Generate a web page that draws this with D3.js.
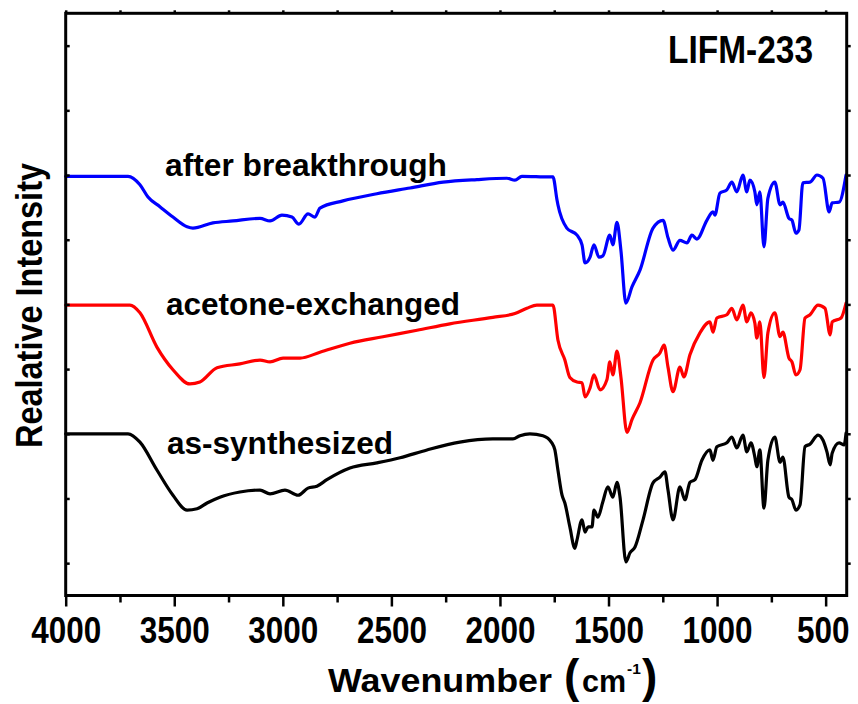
<!DOCTYPE html>
<html><head><meta charset="utf-8">
<script src="https://cdn.jsdelivr.net/npm/d3@7"></script>
<style>
html,body{margin:0;padding:0;background:#fff;}
svg{display:block;}
text{font-family:"Liberation Sans",Arial,Helvetica,sans-serif;font-weight:bold;fill:#000;}
</style>
</head><body>
<svg id="chart" width="858" height="704"></svg>
<script>
// ---- data (wavenumber in cm-1, relative intensity with vertical offsets) ----
const afterWn  = [4000,3713,3658,3621,3566,3506,3441,3414,3322,3230,3105,3059,3004,2958,2926,2884,2852,2829,2723,2567,2414,2262,2106,1968,1931,1899,1770,1756,1737,1733,1692,1645,1622,1608,1585,1567,1544,1526,1494,1480,1461,1443,1420,1392,1355,1295,1249,1226,1203,1171,1139,1116,1093,1047,1019,1010,987,955,932,909,881,863,849,826,817,803,784,766,734,710,697,669,655,637,623,605,572,540,512,484,470,438,406];
const afterVal = [6.48,6.48,6.35,6.16,6.01,5.85,5.70,5.68,5.76,5.79,5.83,5.79,5.88,5.85,5.74,5.90,5.85,5.99,6.10,6.21,6.30,6.39,6.43,6.45,6.42,6.48,6.47,6.47,6.11,6.04,5.68,5.57,5.42,5.14,5.23,5.42,5.23,5.25,5.57,5.42,5.77,5.34,4.52,4.77,5.03,5.68,5.80,5.53,5.34,5.49,5.45,5.57,5.51,5.80,5.93,5.88,6.22,6.27,6.39,6.24,6.50,6.24,6.42,6.24,6.04,6.24,5.39,6.14,6.39,6.04,6.08,5.83,5.80,5.60,5.65,6.38,6.39,6.50,6.45,5.93,6.07,6.08,6.50];

const acetoneWn  = [4000,3704,3658,3580,3506,3428,3382,3303,3198,3105,3059,2999,2921,2829,2691,2539,2382,2231,2033,1931,1876,1830,1756,1733,1701,1678,1645,1622,1608,1585,1567,1539,1507,1494,1480,1461,1443,1415,1392,1355,1295,1263,1244,1226,1203,1171,1153,1125,1079,1033,1019,1001,955,932,909,881,863,844,826,817,803,784,766,734,710,697,669,655,637,618,595,572,535,503,479,470,429,406];
const acetoneVal = [4.49,4.49,4.37,3.84,3.49,3.27,3.30,3.52,3.58,3.64,3.61,3.67,3.67,3.76,3.90,4.00,4.10,4.20,4.30,4.36,4.44,4.49,4.49,3.95,3.64,3.37,3.30,3.29,3.07,3.21,3.41,3.18,3.34,3.61,3.41,3.78,3.38,2.52,2.72,2.98,3.64,3.75,3.87,3.53,3.15,3.53,3.38,3.72,4.06,4.23,4.07,4.29,4.34,4.44,4.26,4.49,4.23,4.37,4.21,3.98,4.23,3.37,4.06,4.37,4.00,4.07,3.67,3.61,3.41,3.49,4.29,4.34,4.49,4.44,4.03,4.23,4.29,4.52];

const asSynWn  = [4000,3713,3658,3580,3506,3441,3395,3349,3290,3198,3105,3059,2990,2930,2884,2843,2797,2691,2567,2460,2336,2185,2033,1940,1908,1862,1802,1761,1747,1733,1714,1701,1678,1655,1645,1622,1608,1594,1576,1567,1549,1526,1503,1480,1461,1447,1420,1401,1378,1341,1295,1263,1240,1226,1203,1171,1148,1125,1102,1070,1033,1019,1001,955,932,909,881,863,844,826,817,803,784,766,734,710,697,669,655,637,618,595,572,535,512,494,479,470,438,415,406];
const asSynVal = [2.50,2.50,2.37,1.94,1.55,1.32,1.34,1.43,1.52,1.60,1.63,1.57,1.63,1.55,1.66,1.69,1.79,1.97,2.05,2.13,2.25,2.37,2.42,2.42,2.47,2.50,2.47,2.36,2.25,1.94,1.55,1.43,1.06,0.73,0.86,1.17,0.98,1.06,1.06,1.32,1.21,1.45,1.68,1.52,1.75,1.52,0.52,0.66,0.75,1.17,1.74,1.83,1.91,1.63,1.17,1.68,1.48,1.75,1.79,2.09,2.25,2.09,2.30,2.36,2.45,2.28,2.48,2.22,2.36,2.14,1.99,2.25,1.35,2.09,2.45,2.06,2.14,1.52,1.48,1.32,1.40,2.30,2.34,2.48,2.40,2.22,2.02,2.20,2.36,2.33,2.51];

const seriesNames  = ["after breakthrough","acetone-exchanged","as-synthesized"];
const seriesColors = ["#0000ff","#ff0000","#000000"];
const xMajorTicks  = [4000,3500,3000,2500,2000,1500,1000,500];
const xMinorTicks  = [3750,3250,2750,2250,1750,1250,750];
const xTopTicks    = [4000,3750,3500,3250,3000,2750,2500,2250,2000,1750,1500,1250,1000,750,500];
const yTicks       = [0.5,1.5,2.5,3.5,4.5,5.5,6.5,7.5,8.5];
const xTitle = "Wavenumber";
const yTitle = "Realative Intensity";
const sampleName = "LIFM-233";

// ---- layout ----
const L = 65.7, R = 846.7, T = 13.3, B = 595.5;
const x = d3.scaleLinear().domain([4000, 403]).range([L, R]);
const y = d3.scaleLinear().domain([0, 9]).range([B, T]);
const svg = d3.select("#chart");

// curves
const line = d3.line().x(d => x(d[0])).y(d => y(d[1])).curve(d3.curveMonotoneX);
const series = [
  d3.zip(afterWn, afterVal),
  d3.zip(acetoneWn, acetoneVal),
  d3.zip(asSynWn, asSynVal)
];
svg.append("g").selectAll("path").data(series).join("path")
  .attr("d", line)
  .attr("fill", "none")
  .attr("stroke", (d, i) => seriesColors[i])
  .attr("stroke-width", 3.2)
  .attr("stroke-linejoin", "round")
  .attr("stroke-linecap", "round");

// axes ticks
const tickStyle = g => { g.select(".domain").remove(); g.selectAll("line").attr("stroke", "#000").attr("stroke-width", 2.5); };

const xAxis = svg.append("g").attr("transform", `translate(0,${B})`)
  .call(d3.axisBottom(x).tickValues(xMajorTicks).tickSize(11).tickFormat(d3.format("d")))
  .call(tickStyle);
xAxis.selectAll("text")
  .attr("y", 47.5).attr("dy", 0)
  .attr("x", d => d === 500 ? -3 : 0)
  .attr("font-size", 36)
  .attr("font-family", null)
  .attr("textLength", d => String(d).length * 17.5)
  .attr("lengthAdjust", "spacingAndGlyphs");

svg.append("g").attr("transform", `translate(0,${B})`)
  .call(d3.axisBottom(x).tickValues(xMinorTicks).tickSize(7).tickFormat(""))
  .call(tickStyle);

svg.append("g").attr("transform", `translate(0,${T})`)
  .call(d3.axisTop(x).tickValues(xTopTicks).tickSize(3).tickFormat(""))
  .call(tickStyle);

svg.append("g").attr("transform", `translate(${L},0)`)
  .call(d3.axisLeft(y).tickValues(yTicks).tickSize(-4).tickFormat(""))
  .call(tickStyle);

svg.append("g").attr("transform", `translate(${R},0)`)
  .call(d3.axisRight(y).tickValues(yTicks).tickSize(4).tickFormat(""))
  .call(tickStyle);

// frame
svg.append("rect").attr("x", L).attr("y", T).attr("width", R - L).attr("height", B - T)
  .attr("fill", "none").attr("stroke", "#000").attr("stroke-width", 3);

// series labels
const labelPos = [[165, 176, 282], [166, 315, 294], [167, 454, 226]];
svg.append("g").selectAll("text").data(seriesNames).join("text")
  .attr("x", (d, i) => labelPos[i][0])
  .attr("y", (d, i) => labelPos[i][1])
  .attr("font-size", 32)
  .attr("textLength", (d, i) => labelPos[i][2])
  .attr("lengthAdjust", "spacingAndGlyphs")
  .text(d => d);

// sample name
svg.append("text").attr("x", 668).attr("y", 63).attr("font-size", 39)
  .attr("textLength", 145).attr("lengthAdjust", "spacingAndGlyphs").text(sampleName);

// y title
svg.append("text").attr("transform", "translate(42,305.5) rotate(-90)")
  .attr("text-anchor", "middle").attr("font-size", 37)
  .attr("textLength", 285).attr("lengthAdjust", "spacingAndGlyphs").text(yTitle);

// x title
const xt = svg.append("g");
xt.append("text").attr("x", 328).attr("y", 692).attr("font-size", 33)
  .attr("textLength", 224).attr("lengthAdjust", "spacingAndGlyphs").text(xTitle);
xt.append("text").attr("x", 564).attr("y", 692).attr("font-size", 46).text("(");
xt.append("text").attr("x", 582).attr("y", 692).attr("font-size", 30.5).text("cm");
xt.append("text").attr("x", 627).attr("y", 674).attr("font-size", 15.5).text("-1");
xt.append("text").attr("x", 642).attr("y", 692).attr("font-size", 46).text(")");
</script>
</body></html>
